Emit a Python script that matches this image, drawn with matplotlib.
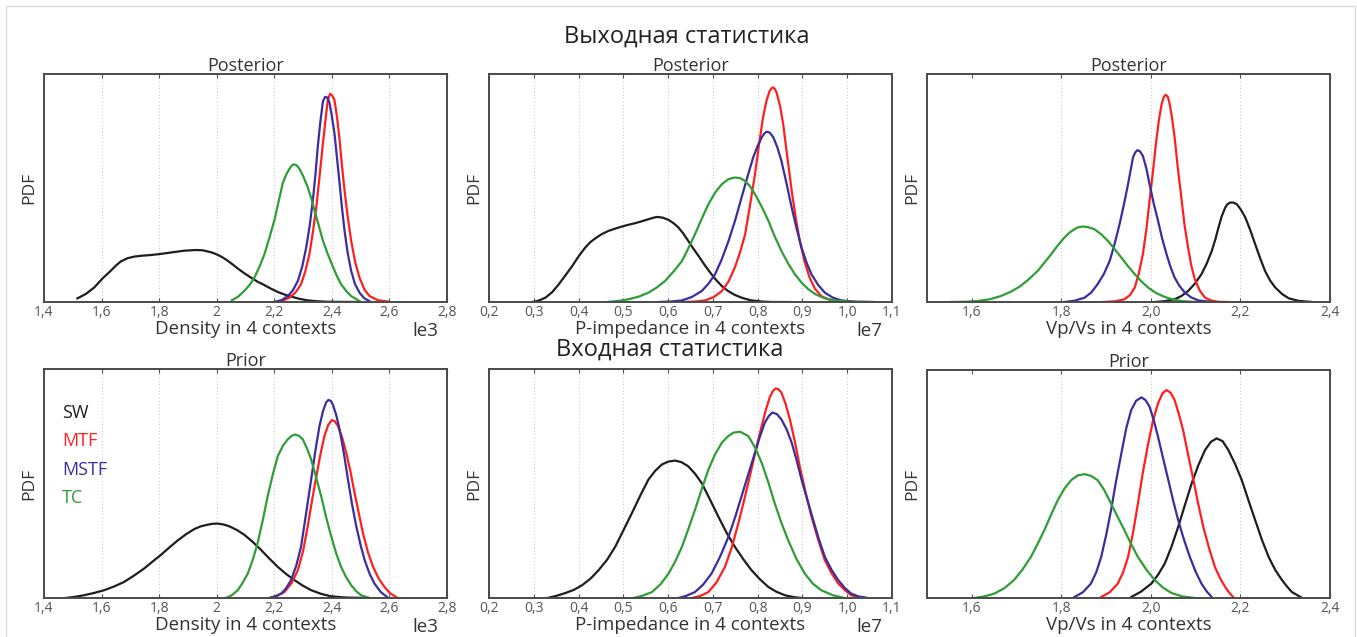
import matplotlib
matplotlib.use("Agg")
import matplotlib.pyplot as plt
from matplotlib.patches import Rectangle

plt.rcParams['font.family'] = ['Open Sans', 'DejaVu Sans']

# Colours of the four contexts
C_SW, C_MTF, C_MSTF, C_TC = '#1e1e1e', '#ff1f1f', '#3a2e9e', '#2e9e35'

# ---- Density, posterior (x in units of 1e3)
dp_sw_x = [1.516, 1.545, 1.574, 1.603, 1.632, 1.650, 1.667, 1.690, 1.713, 1.740, 1.771, 1.800, 1.829, 1.858, 1.887, 1.928, 1.950, 1.968, 1.986, 2.003, 2.020, 2.038, 2.055, 2.073, 2.096, 2.119, 2.142, 2.166, 2.189, 2.212, 2.235, 2.258, 2.287, 2.316, 2.35, 2.386, 2.50]
dp_sw_y = [1.6, 3.5, 6.3, 10.3, 13.7, 16.0, 17.8, 19.2, 19.9, 20.3, 20.6, 21.0, 21.5, 22.0, 22.5, 22.8, 22.7, 22.2, 21.6, 20.7, 19.6, 18.1, 16.5, 14.7, 12.6, 10.7, 8.9, 7.4, 5.8, 4.4, 3.3, 2.4, 1.4, 0.7, 0.3, 0.1, 0]
dp_tc_x = [2.052, 2.075, 2.096, 2.115, 2.131, 2.148, 2.166, 2.183, 2.20, 2.215, 2.229, 2.241, 2.253, 2.261, 2.268, 2.277, 2.287, 2.30, 2.316, 2.328, 2.34, 2.355, 2.369, 2.385, 2.40, 2.416, 2.432, 2.45, 2.467, 2.496]
dp_tc_y = [0.7, 2.4, 4.9, 7.6, 10.7, 15.3, 21, 28.2, 35.7, 44, 51.9, 55.8, 58.5, 59.9, 60.4, 60.0, 58.5, 55.3, 50.4, 45.6, 40.1, 33.3, 26.9, 21.3, 16.6, 11.8, 7.8, 4.8, 2.6, 0.4]
dp_mstf_x = [2.20, 2.225, 2.247, 2.265, 2.282, 2.297, 2.311, 2.323, 2.334, 2.343, 2.351, 2.36, 2.369, 2.377, 2.385, 2.392, 2.40, 2.409, 2.418, 2.427, 2.435, 2.444, 2.455, 2.467, 2.48, 2.496, 2.512, 2.53]
dp_mstf_y = [0, 0.8, 2.6, 5.2, 9.3, 15.5, 24, 33.5, 44.6, 56, 68, 79, 88, 90, 89.6, 87.2, 81.5, 74, 63, 51.9, 41.5, 31.3, 21.5, 13.7, 8, 4.1, 1.7, 0.4]
dp_mtf_x = [2.20, 2.228, 2.253, 2.274, 2.293, 2.308, 2.322, 2.334, 2.346, 2.358, 2.369, 2.378, 2.386, 2.394, 2.401, 2.409, 2.418, 2.427, 2.435, 2.444, 2.455, 2.467, 2.481, 2.496, 2.513, 2.531, 2.56, 2.60]
dp_mtf_y = [0, 0.6, 1.9, 4.2, 7.8, 13.5, 21, 30.5, 41.6, 56, 69.6, 80, 88.7, 91.3, 90.6, 88.7, 81, 71, 60, 49, 37.5, 26.9, 17.5, 10.7, 5.5, 2.6, 0.8, 0.1]

# ---- P-impedance, posterior (x in units of 1e7)
ip_sw_x = [0.297, 0.311, 0.326, 0.341, 0.356, 0.371, 0.386, 0.40, 0.415, 0.426, 0.438, 0.452, 0.467, 0.482, 0.497, 0.512, 0.527, 0.541, 0.556, 0.566, 0.575, 0.588, 0.601, 0.612, 0.623, 0.634, 0.645, 0.656, 0.668, 0.681, 0.694, 0.707, 0.72, 0.734, 0.749, 0.767, 0.786, 0.81, 0.831, 0.872]
ip_sw_y = [0, 0.6, 1.9, 4.3, 7.8, 11.8, 15.8, 20, 23.9, 26.2, 28, 29.8, 31.2, 32.2, 33.1, 33.9, 34.6, 35.4, 36.3, 36.9, 37.3, 37.0, 36, 34.6, 32.7, 30, 26.8, 23.5, 20.2, 16.4, 12.9, 9.7, 7, 4.8, 3.1, 1.7, 0.7, 0.2, 0, 0]
ip_tc_x = [0.464, 0.49, 0.512, 0.535, 0.556, 0.575, 0.593, 0.612, 0.631, 0.645, 0.66, 0.675, 0.69, 0.705, 0.72, 0.735, 0.749, 0.761, 0.772, 0.783, 0.794, 0.809, 0.824, 0.838, 0.853, 0.868, 0.883, 0.898, 0.913, 0.93, 0.95, 0.968, 0.987, 1.02, 1.054]
ip_tc_y = [0, 0.5, 1.2, 2.4, 4.1, 6.4, 9.2, 13.3, 18, 23.5, 29.7, 36.5, 42.9, 48, 51.7, 53.9, 54.6, 54.3, 53.1, 50.7, 47.3, 41.8, 35.6, 28.8, 22.4, 16.9, 12.2, 8.5, 5.6, 3.3, 1.6, 0.8, 0.4, 0.1, 0]
ip_mstf_x = [0.579, 0.605, 0.631, 0.653, 0.675, 0.69, 0.705, 0.72, 0.735, 0.75, 0.764, 0.777, 0.79, 0.80, 0.809, 0.815, 0.82, 0.827, 0.835, 0.844, 0.853, 0.865, 0.876, 0.887, 0.898, 0.909, 0.92, 0.935, 0.95, 0.968, 0.987, 1.02, 1.057]
ip_mstf_y = [0, 0.2, 0.7, 2.2, 4.8, 8.0, 12.2, 18.8, 26.8, 36, 45.8, 54.8, 63.4, 68.5, 72.2, 73.9, 74.7, 74.3, 72.2, 67.8, 61.9, 51.5, 41.4, 32.2, 23.9, 17.4, 12.2, 7.5, 4.1, 1.9, 0.7, 0.1, 0]
ip_mtf_x = [0.631, 0.66, 0.683, 0.702, 0.72, 0.735, 0.749, 0.761, 0.772, 0.783, 0.794, 0.803, 0.812, 0.82, 0.827, 0.833, 0.838, 0.842, 0.85, 0.857, 0.866, 0.876, 0.885, 0.894, 0.905, 0.916, 0.928, 0.942, 0.96, 0.98, 1.0]
ip_mtf_y = [0, 0.2, 0.7, 2.2, 4.8, 9.0, 15.1, 22, 29.7, 42.5, 56, 69, 81, 88.5, 92.7, 94.1, 93.6, 92, 86, 78, 64, 48.7, 37, 26.8, 17.5, 10.7, 5.8, 2.6, 1.0, 0.3, 0]

# ---- Vp/Vs, posterior
vp_tc_x = [1.552, 1.585, 1.612, 1.64, 1.665, 1.688, 1.709, 1.728, 1.747, 1.762, 1.777, 1.792, 1.807, 1.818, 1.829, 1.838, 1.848, 1.86, 1.874, 1.889, 1.904, 1.919, 1.934, 1.949, 1.964, 1.979, 1.994, 2.012, 2.031, 2.05, 2.069, 2.10]
vp_tc_y = [0, 0.1, 0.4, 1.2, 2.6, 4.6, 7, 10.1, 13.6, 17.2, 20.9, 24.8, 28.3, 30.4, 31.9, 32.8, 33.1, 32.8, 31.9, 29.7, 26.8, 23.2, 19.5, 15.7, 12.2, 9.0, 6.3, 3.9, 2.2, 1.1, 0.4, 0]
vp_mstf_x = [1.807, 1.83, 1.852, 1.867, 1.881, 1.895, 1.908, 1.919, 1.93, 1.94, 1.949, 1.955, 1.96, 1.965, 1.97, 1.976, 1.982, 1.99, 1.997, 2.006, 2.016, 2.025, 2.035, 2.044, 2.053, 2.064, 2.076, 2.09, 2.106, 2.136]
vp_mstf_y = [0, 0.6, 1.9, 4.2, 7.8, 12.3, 18, 25.5, 34.1, 43, 51.7, 58, 63.4, 65.6, 66.6, 66, 64.1, 58.5, 51.7, 43.5, 35.6, 28, 20.9, 15.3, 10.7, 7.0, 4.1, 2.0, 0.7, 0]
vp_mtf_x = [1.893, 1.92, 1.941, 1.953, 1.964, 1.973, 1.982, 1.99, 1.997, 2.005, 2.012, 2.018, 2.024, 2.029, 2.033, 2.038, 2.042, 2.047, 2.053, 2.06, 2.068, 2.075, 2.083, 2.09, 2.098, 2.11, 2.121, 2.135, 2.151, 2.173]
vp_mtf_y = [0, 0.3, 1.2, 3.0, 6.3, 12.5, 20.9, 32, 44.4, 58, 70.7, 80, 86.8, 90, 90.9, 90, 86.8, 81, 72.2, 59, 45.8, 34, 23.9, 16.2, 10, 4.7, 1.9, 0.6, 0.1, 0]
vp_sw_x = [2.009, 2.032, 2.053, 2.068, 2.083, 2.098, 2.113, 2.125, 2.136, 2.144, 2.151, 2.158, 2.166, 2.171, 2.177, 2.184, 2.192, 2.201, 2.211, 2.222, 2.233, 2.244, 2.255, 2.266, 2.278, 2.293, 2.308, 2.33, 2.36]
vp_sw_y = [0, 0.4, 1.2, 2.6, 4.8, 8.0, 12.2, 17.0, 22.4, 27.5, 32.7, 37.5, 41.4, 42.9, 43.6, 43.6, 42.9, 40.5, 37, 31.5, 25.3, 19.2, 13.6, 9.5, 6.3, 3.5, 1.6, 0.5, 0]

# ---- Density, prior
dr_sw_x = [1.475, 1.507, 1.539, 1.574, 1.609, 1.643, 1.678, 1.713, 1.748, 1.777, 1.806, 1.835, 1.864, 1.893, 1.922, 1.945, 1.968, 1.985, 2.003, 2.024, 2.044, 2.07, 2.096, 2.125, 2.154, 2.183, 2.212, 2.241, 2.27, 2.299, 2.328, 2.363, 2.398, 2.45, 2.525]
dr_sw_y = [0, 0.5, 1.2, 2.2, 3.4, 5.0, 7, 9.8, 12.9, 15.9, 18.8, 22.0, 25.1, 27.8, 30.1, 31.3, 32, 32.4, 32.5, 32.1, 31.3, 29.7, 27.6, 24.5, 21, 17.2, 13.6, 10.5, 7.8, 5.4, 3.4, 1.8, 0.7, 0.2, 0]
dr_tc_x = [2.032, 2.052, 2.073, 2.09, 2.108, 2.125, 2.142, 2.16, 2.177, 2.195, 2.212, 2.23, 2.247, 2.26, 2.272, 2.286, 2.299, 2.313, 2.328, 2.345, 2.363, 2.38, 2.398, 2.415, 2.432, 2.45, 2.467, 2.485, 2.502, 2.531]
dr_tc_y = [0, 1.2, 3.4, 6.6, 10.7, 16.6, 23.9, 34, 44.4, 54, 61.9, 66.5, 69.3, 70.8, 71.4, 70.8, 69.3, 65.5, 60.5, 52.8, 44.4, 35.3, 26.8, 19.5, 13.6, 9.0, 5.6, 2.9, 1.2, 0]
dr_mstf_x = [2.183, 2.204, 2.224, 2.241, 2.258, 2.276, 2.293, 2.31, 2.328, 2.343, 2.357, 2.369, 2.38, 2.388, 2.396, 2.403, 2.415, 2.427, 2.442, 2.456, 2.47, 2.485, 2.50, 2.514, 2.531, 2.548, 2.57, 2.595]
dr_mstf_y = [0, 0.7, 1.9, 4.2, 7.8, 14, 22.4, 36.5, 51.7, 64.5, 75.1, 81.5, 85.4, 86.5, 86.1, 84.6, 80, 73.6, 63, 51.7, 41, 31.2, 23, 16.5, 10.6, 6.3, 2.6, 0.1]
dr_mtf_x = [2.183, 2.21, 2.235, 2.26, 2.282, 2.30, 2.316, 2.331, 2.346, 2.36, 2.374, 2.387, 2.40, 2.41, 2.421, 2.436, 2.45, 2.465, 2.479, 2.494, 2.508, 2.525, 2.543, 2.563, 2.583, 2.603, 2.624]
dr_mtf_y = [0, 1.0, 2.6, 6.5, 12.2, 20.5, 31.2, 42.5, 53.1, 62.5, 70.7, 75.5, 77.7, 77.2, 75.1, 70, 63.4, 55, 45.8, 36.8, 28.3, 20.2, 13.6, 8.4, 4.8, 2.0, 0.4]

# ---- P-impedance, prior
ir_sw_x = [0.33, 0.35, 0.371, 0.39, 0.408, 0.427, 0.445, 0.464, 0.482, 0.50, 0.519, 0.538, 0.556, 0.571, 0.586, 0.601, 0.616, 0.63, 0.645, 0.66, 0.675, 0.693, 0.712, 0.73, 0.749, 0.768, 0.786, 0.805, 0.824, 0.842, 0.861, 0.88, 0.898]
ir_sw_y = [0, 0.9, 2.2, 3.6, 5.6, 8.5, 12.2, 16.8, 22.4, 29.5, 37, 44.8, 51.7, 55.5, 58.3, 59.6, 60, 59.3, 57.5, 54.3, 50.2, 43.2, 35.6, 28.7, 22.4, 16.9, 12.2, 8.2, 4.8, 2.7, 1.2, 0.4, 0]
ir_tc_x = [0.523, 0.543, 0.564, 0.583, 0.601, 0.616, 0.631, 0.645, 0.66, 0.675, 0.69, 0.705, 0.72, 0.733, 0.746, 0.761, 0.779, 0.794, 0.809, 0.824, 0.838, 0.853, 0.868, 0.886, 0.905, 0.923, 0.942, 0.968, 0.994]
ir_tc_y = [0, 1.0, 2.6, 6.0, 10.7, 16.0, 22.4, 30, 38.5, 47.5, 56.1, 62.8, 67.8, 70.5, 72.2, 72.6, 70.7, 65.8, 59, 50.4, 41.4, 32.8, 25.3, 17.3, 10.7, 6.3, 3.4, 1.2, 0]
ir_mstf_x = [0.623, 0.64, 0.66, 0.678, 0.697, 0.716, 0.735, 0.75, 0.764, 0.779, 0.794, 0.805, 0.816, 0.825, 0.833, 0.843, 0.853, 0.865, 0.876, 0.887, 0.898, 0.911, 0.924, 0.937, 0.95, 0.965, 0.98, 0.995, 1.009, 1.025, 1.043]
ir_mstf_y = [0, 0.9, 2.6, 5.8, 10.7, 18, 26.8, 35.5, 44.4, 54, 63.4, 70.5, 76.6, 79.5, 81, 80.3, 78, 73.5, 67.8, 60.2, 51.7, 42.8, 34.1, 25.5, 18, 12.3, 7.8, 4.3, 1.9, 0.7, 0.1]
ir_mtf_x = [0.653, 0.672, 0.69, 0.708, 0.727, 0.742, 0.757, 0.772, 0.786, 0.798, 0.809, 0.818, 0.827, 0.834, 0.84, 0.846, 0.853, 0.862, 0.872, 0.883, 0.894, 0.907, 0.92, 0.935, 0.95, 0.965, 0.98, 0.995, 1.009, 1.025, 1.039]
ir_mtf_y = [0, 0.9, 2.6, 6.8, 13.6, 22, 32.7, 44.5, 56.1, 66.5, 75.1, 82, 87.6, 90.4, 91.5, 91.2, 89.7, 85, 78, 68.3, 57.5, 46.2, 35.6, 25.5, 16.5, 10.8, 6.3, 3.4, 1.2, 0.4, 0]

# ---- Vp/Vs, prior
vr_tc_x = [1.605, 1.628, 1.65, 1.672, 1.694, 1.713, 1.732, 1.747, 1.762, 1.777, 1.792, 1.807, 1.822, 1.837, 1.852, 1.866, 1.881, 1.896, 1.911, 1.926, 1.941, 1.956, 1.971, 1.99, 2.009, 2.028, 2.046, 2.07, 2.098]
vr_tc_y = [0, 0.7, 1.9, 4.2, 7.8, 12.4, 18, 23.7, 29.7, 36.5, 42.9, 48, 51.7, 53.8, 54.3, 53.6, 51.7, 47.3, 41.4, 35.5, 29.7, 23.6, 18, 12.4, 7.8, 4.4, 2.2, 0.7, 0]
vr_mstf_x = [1.829, 1.848, 1.866, 1.878, 1.889, 1.90, 1.911, 1.922, 1.934, 1.945, 1.956, 1.967, 1.979, 1.988, 1.997, 2.006, 2.016, 2.027, 2.039, 2.05, 2.061, 2.074, 2.087, 2.10, 2.113, 2.125, 2.136]
vr_mstf_y = [0.4, 2.5, 6.3, 11.3, 18, 27.5, 38.5, 51, 63.4, 74.5, 82.4, 86.5, 88, 86.8, 83.9, 78.3, 70.7, 61.5, 51.7, 42.5, 34.1, 25.5, 18, 11.5, 6.3, 2.8, 0.4]
vr_mtf_x = [1.889, 1.908, 1.926, 1.938, 1.949, 1.96, 1.971, 1.982, 1.994, 2.005, 2.016, 2.026, 2.035, 2.044, 2.053, 2.062, 2.072, 2.083, 2.095, 2.106, 2.117, 2.13, 2.143, 2.155, 2.166, 2.175, 2.184]
vr_mtf_y = [0.4, 2.5, 6.3, 11.3, 18, 28.5, 41.4, 55, 67.8, 78, 85.4, 89.8, 91.2, 90, 86.8, 81, 73.6, 63, 51.7, 41, 31.2, 21.8, 13.6, 8.5, 4.8, 2.3, 0.4]
vr_sw_x = [1.956, 1.978, 2.001, 2.016, 2.031, 2.046, 2.061, 2.076, 2.091, 2.106, 2.121, 2.134, 2.147, 2.16, 2.173, 2.188, 2.203, 2.218, 2.233, 2.248, 2.263, 2.278, 2.293, 2.305, 2.315, 2.338]
vr_sw_y = [0.4, 2.8, 6.3, 10.2, 15.1, 22.5, 31.2, 40.8, 50.2, 58.3, 64.9, 68.5, 70, 68.8, 64.9, 58.8, 51.7, 42.8, 34.1, 25.5, 18, 12.2, 7.8, 4.8, 2.6, 0]

# ticks
dens_ticks = [1.4, 1.6, 1.8, 2.0, 2.2, 2.4, 2.6, 2.8]
dens_labels = ['1,4', '1,6', '1,8', '2', '2,2', '2,4', '2,6', '2,8']
imp_ticks = [0.2, 0.3, 0.4, 0.5, 0.6, 0.7, 0.8, 0.9, 1.0, 1.1]
imp_labels = ['0,2', '0,3', '0,4', '0,5', '0,6', '0,7', '0,8', '0,9', '1,0', '1,1']
vp_ticks = [1.6, 1.8, 2.0, 2.2, 2.4]
vp_labels = ['1,6', '1,8', '2,0', '2,2', '2,4']

W, H = 1357, 637
fig = plt.figure(figsize=(W / 100, H / 100), dpi=100)
fig.patch.set_facecolor('white')

# light frame round the picture
fig.add_artist(Rectangle((6 / W, -0.05), 1349 / W, 631 / H + 0.05, transform=fig.transFigure,
                         fill=False, ec='#dcdcdc', lw=1.0))


def make_ax(left, top, bottom, xlim, ticks, labels, xlabel, title, scale):
    ax = fig.add_axes([left / W, 1 - bottom / H, 403 / W, (bottom - top) / H])
    ax.set_xlim(*xlim)
    ax.set_ylim(0, 100)
    ax.set_yticks([])
    ax.set_xticks(ticks)
    ax.set_xticklabels(labels)
    ax.tick_params(axis='x', direction='in', length=3, top=True, pad=2,
                   labelsize=10, labelcolor='#555555', color='#555555')
    for t in ticks[1:-1]:
        ax.axvline(t, color='#cccccc', lw=0.8, ls=(0, (1, 2)), zorder=0)
    for s in ax.spines.values():
        s.set_color('#4a4a4a')
        s.set_linewidth(1.4)
    ax.set_xlabel(xlabel, fontsize=13.5, color='#333333', labelpad=0)
    ax.set_ylabel('PDF', fontsize=12.5, color='#333333', labelpad=5)
    if title:
        ax.set_title(title, fontsize=13, color='#333333', pad=2)
    if scale:
        ax.text(0.945, -0.125, scale, transform=ax.transAxes, fontsize=13.5,
                color='#333333', ha='center', va='center')
    return ax


def curves(ax, sw, mtf, mstf, tc):
    for (x, y), c in zip([sw, mtf, mstf, tc], [C_SW, C_MTF, C_MSTF, C_TC]):
        ax.plot(x, y, color=c, lw=1.6, solid_joinstyle='round')


ax1 = make_ax(44, 74, 302, (1.4, 2.8), dens_ticks, dens_labels, 'Density in 4 contexts', 'Posterior', 'le3')
curves(ax1, (dp_sw_x, dp_sw_y), (dp_mtf_x, dp_mtf_y), (dp_mstf_x, dp_mstf_y), (dp_tc_x, dp_tc_y))

ax2 = make_ax(489, 74, 302, (0.2, 1.1), imp_ticks, imp_labels, 'P-impedance in 4 contexts', 'Posterior', 'le7')
curves(ax2, (ip_sw_x, ip_sw_y), (ip_mtf_x, ip_mtf_y), (ip_mstf_x, ip_mstf_y), (ip_tc_x, ip_tc_y))

ax3 = make_ax(927, 74, 302, (1.5, 2.4), vp_ticks, vp_labels, 'Vp/Vs in 4 contexts', 'Posterior', None)
curves(ax3, (vp_sw_x, vp_sw_y), (vp_mtf_x, vp_mtf_y), (vp_mstf_x, vp_mstf_y), (vp_tc_x, vp_tc_y))

ax4 = make_ax(44, 369, 598, (1.4, 2.8), dens_ticks, dens_labels, 'Density in 4 contexts', 'Prior', 'le3')
curves(ax4, (dr_sw_x, dr_sw_y), (dr_mtf_x, dr_mtf_y), (dr_mstf_x, dr_mstf_y), (dr_tc_x, dr_tc_y))

ax5 = make_ax(489, 369, 598, (0.2, 1.1), imp_ticks, imp_labels, 'P-impedance in 4 contexts', None, 'le7')
curves(ax5, (ir_sw_x, ir_sw_y), (ir_mtf_x, ir_mtf_y), (ir_mstf_x, ir_mstf_y), (ir_tc_x, ir_tc_y))

ax6 = make_ax(927, 370, 598, (1.5, 2.4), vp_ticks, vp_labels, 'Vp/Vs in 4 contexts', 'Prior', None)
curves(ax6, (vr_sw_x, vr_sw_y), (vr_mtf_x, vr_mtf_y), (vr_mstf_x, vr_mstf_y), (vr_tc_x, vr_tc_y))

# context labels in the lower-left panel
for i, (name, c) in enumerate(zip(['SW', 'MTF', 'MSTF', 'TC'], [C_SW, C_MTF, C_MSTF, C_TC])):
    ax4.text(0.045, 0.81 - i * 0.125, name, color=c, fontsize=13,
             transform=ax4.transAxes, ha='left', va='center')

fig.text(687 / W, 1 - 37 / H, 'Выходная статистика', fontsize=17, color='#222222',
         ha='center', va='center')
fig.text(670 / W, 1 - 350 / H, 'Входная статистика', fontsize=17, color='#222222',
         ha='center', va='center')

fig.savefig('out.png', dpi=100)
